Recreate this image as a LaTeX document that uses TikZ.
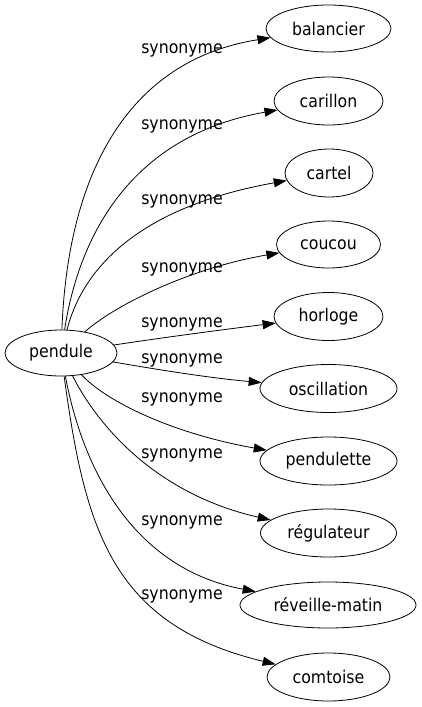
\documentclass[tikz,border=0pt]{standalone}
\usepackage{fontspec}
\setmainfont{DejaVu Sans Condensed}
\usetikzlibrary{arrows.meta,shapes.geometric}
\begin{document}
\begin{tikzpicture}[x=1pt,y=-1pt,
  word/.style={draw, ellipse, line width=0.8pt, inner sep=0pt, font=\fontsize{17.5}{20}\selectfont},
  syn/.style={font=\fontsize{17.5}{20}\selectfont, inner sep=0pt},
  link/.style={line width=0.8pt, -{Triangle[length=13pt,width=9pt]}}]
\useasboundingbox (0,0) rectangle (422,707);
\node[word, minimum width=112pt, minimum height=46pt] (pendule) at (61,353) {pendule};
\node[word, minimum width=125pt, minimum height=47pt] (balancier) at (328.5,28.5) {balancier};
\node[word, minimum width=109pt, minimum height=48pt] (carillon) at (328.5,101) {carillon};
\node[word, minimum width=88pt, minimum height=48pt] (cartel) at (329,173) {cartel};
\node[word, minimum width=104pt, minimum height=47pt] (coucou) at (328.5,244.5) {coucou};
\node[word, minimum width=109pt, minimum height=48pt] (horloge) at (328.5,316.5) {horloge};
\node[word, minimum width=137pt, minimum height=48pt] (oscillation) at (328.5,388.5) {oscillation};
\node[word, minimum width=137pt, minimum height=48pt] (pendulette) at (328.5,461) {pendulette};
\node[word, minimum width=136pt, minimum height=48pt] (regulateur) at (328.5,533) {régulateur};
\node[word, minimum width=176pt, minimum height=46pt] (reveille) at (328,605) {réveille-matin};
\node[word, minimum width=123pt, minimum height=48pt] (comtoise) at (328.5,677) {comtoise};

\draw[link] (pendule) .. controls (68,170) and (130,60) .. (balancier);
\draw[link] (pendule) .. controls (80,230) and (135,135) .. (carillon);
\draw[link] (pendule) .. controls (85,260) and (150,205) .. (cartel);
\draw[link] (pendule) .. controls (115,305) and (190,268) .. (coucou);
\draw[link] (pendule) .. controls (160,338) and (220,330) .. (horloge);
\draw[link] (pendule) .. controls (160,370) and (210,378) .. (oscillation);
\draw[link] (pendule) .. controls (110,405) and (180,435) .. (pendulette);
\draw[link] (pendule) .. controls (100,430) and (160,495) .. (regulateur);
\draw[link] (pendule) .. controls (85,480) and (140,570) .. (reveille);
\draw[link] (pendule) .. controls (85,530) and (112,625) .. (comtoise);

\node[syn] (l1) at (182,50) {synonyme};
\node[syn] (l2) at (182,126) {synonyme};
\node[syn] (l3) at (182,201) {synonyme};
\node[syn] (l4) at (182,269) {synonyme};
\node[syn] (l5) at (182,324) {synonyme};
\node[syn] (l6) at (182,360) {synonyme};
\node[syn] (l7) at (182,399) {synonyme};
\node[syn] (l8) at (182,455) {synonyme};
\node[syn] (l9) at (182,522) {synonyme};
\node[syn] (l10) at (182,596) {synonyme};
\end{tikzpicture}
\end{document}
